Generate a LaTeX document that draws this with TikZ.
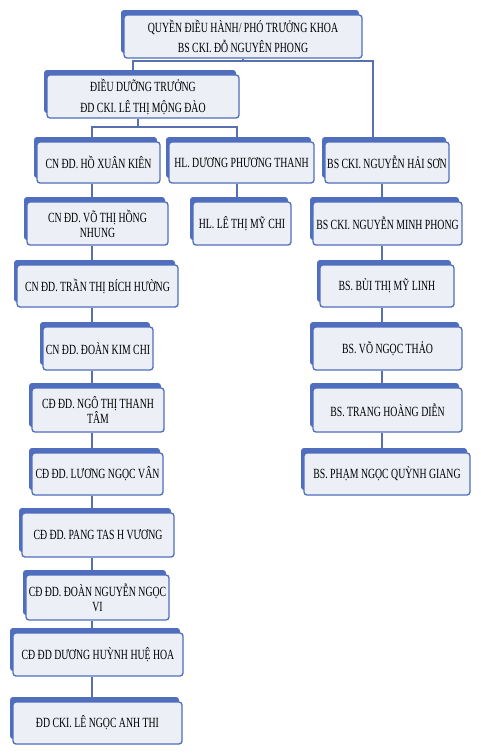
\documentclass[tikz,border=0pt]{standalone}
\usepackage{fontspec}
\setmainfont{Liberation Serif}[FakeStretch=0.70]
\usetikzlibrary{shadows,backgrounds}
\definecolor{bblue}{RGB}{79,110,190}
\definecolor{bfill}{RGB}{236,239,246}
\definecolor{lblue}{RGB}{88,112,176}
\tikzset{
 orgbox/.style={draw=bblue, line width=1.3pt, rounded corners=3pt, fill=bfill,
   inner sep=0pt, align=center, font=\fontsize{14}{15}\selectfont,
   general shadow={fill=bblue, shadow xshift=-3pt, shadow yshift=5pt, rounded corners=2pt}},
 conn/.style={draw=lblue, line width=1.6pt},
}
\begin{document}
\begin{tikzpicture}[x=1pt,y=-1pt]
\useasboundingbox (0,0) rectangle (481,753);
% boxes
\node[orgbox, minimum width=238pt, minimum height=43pt] (top) at (243,36.5) {QUYỀN ĐIỀU HÀNH/ PHÓ TRƯỞNG KHOA\\[5pt]BS CKI. ĐỖ NGUYÊN PHONG};
\node[orgbox, minimum width=192pt, minimum height=43pt] (dd) at (143,96.5) {ĐIỀU DƯỠNG TRƯỞNG\\[6pt]ĐD CKI. LÊ THỊ MỘNG ĐÀO};
\node[orgbox, minimum width=123pt, minimum height=41pt] (kien) at (98.5,162.5) {CN ĐD. HỒ XUÂN KIÊN};
\node[orgbox, minimum width=145pt, minimum height=41pt] (thanh) at (241.5,162.5) {HL. DƯƠNG PHƯƠNG THANH};
\node[orgbox, minimum width=124pt, minimum height=41pt] (son) at (387,162.5) {BS CKI. NGUYỄN HẢI SƠN};
\node[orgbox, minimum width=141pt, minimum height=43pt] (nhung) at (97.5,223.5) {CN ĐD. VÕ THỊ HỒNG\\NHUNG};
\node[orgbox, minimum width=98pt, minimum height=43pt] (chi) at (242,223.5) {HL. LÊ THỊ MỸ CHI};
\node[orgbox, minimum width=149pt, minimum height=43pt] (phong) at (387.5,223.5) {BS CKI. NGUYỄN MINH PHONG};
\node[orgbox, minimum width=161pt, minimum height=42pt] (huong) at (97.5,286) {CN ĐD. TRẦN THỊ BÍCH HƯỜNG};
\node[orgbox, minimum width=134pt, minimum height=42pt] (linh) at (387,286) {BS. BÙI THỊ MỸ LINH};
\node[orgbox, minimum width=110pt, minimum height=43pt] (kimchi) at (98,348.5) {CN ĐD. ĐOÀN KIM CHI};
\node[orgbox, minimum width=149pt, minimum height=43pt] (thao) at (387.5,348.5) {BS. VÕ NGỌC THẢO};
\node[orgbox, minimum width=132pt, minimum height=44pt] (tam) at (98,410) {CĐ ĐD. NGÔ THỊ THANH\\TÂM};
\node[orgbox, minimum width=149pt, minimum height=44pt] (dien) at (387.5,410) {BS. TRANG HOÀNG DIỄN};
\node[orgbox, minimum width=131pt, minimum height=42pt] (van) at (97.5,474) {CĐ ĐD. LƯƠNG NGỌC VÂN};
\node[orgbox, minimum width=166pt, minimum height=42pt] (giang) at (387,474) {BS. PHẠM NGỌC QUỲNH GIANG};
\node[orgbox, minimum width=152pt, minimum height=44pt] (vuong) at (98,535) {CĐ ĐD. PANG TAS H VƯƠNG};
\node[orgbox, minimum width=143pt, minimum height=45pt] (vi) at (97.5,597.5) {CĐ ĐD. ĐOÀN NGUYỄN NGỌC\\VI};
\node[orgbox, minimum width=170pt, minimum height=43pt] (hoa) at (98,654.5) {CĐ ĐD DƯƠNG HUỲNH HUỆ HOA};
\node[orgbox, minimum width=169pt, minimum height=42pt] (thi) at (97.5,723) {ĐD CKI. LÊ NGỌC ANH THI};
% guide coordinates
\coordinate (busA) at (0,61);
\coordinate (busB) at (0,127);
\coordinate (xA) at (133,0);
\coordinate (xB) at (373,0);
\coordinate (xD) at (138,0);
\coordinate (xL) at (92,0);
\coordinate (xM) at (237,0);
\coordinate (xR) at (382,0);
\begin{pgfonlayer}{background}
\fill[white] (0,0) rectangle (481,753);
\draw[conn] (top.south) -- (top.south |- busA);
\draw[conn] (dd.north -| xA) |- (busA -| xB) -- (son.north -| xB);
\draw[conn] (dd.south -| xD) -- (busB -| xD);
\draw[conn] (kien.north -| xL) |- (busB -| xM) -- (thanh.north -| xM);
\draw[conn] (thanh.south -| xM) -- (chi.north -| xM);
\draw[conn] (kien.south -| xL) -- (nhung.north -| xL);
\draw[conn] (nhung.south -| xL) -- (huong.north -| xL);
\draw[conn] (huong.south -| xL) -- (kimchi.north -| xL);
\draw[conn] (kimchi.south -| xL) -- (tam.north -| xL);
\draw[conn] (tam.south -| xL) -- (van.north -| xL);
\draw[conn] (van.south -| xL) -- (vuong.north -| xL);
\draw[conn] (vuong.south -| xL) -- (vi.north -| xL);
\draw[conn] (vi.south -| xL) -- (hoa.north -| xL);
\draw[conn] (hoa.south -| xL) -- (thi.north -| xL);
\draw[conn] (son.south -| xR) -- (phong.north -| xR);
\draw[conn] (phong.south -| xR) -- (linh.north -| xR);
\draw[conn] (linh.south -| xR) -- (thao.north -| xR);
\draw[conn] (thao.south -| xR) -- (dien.north -| xR);
\draw[conn] (dien.south -| xR) -- (giang.north -| xR);
\end{pgfonlayer}
\end{tikzpicture}
\end{document}
